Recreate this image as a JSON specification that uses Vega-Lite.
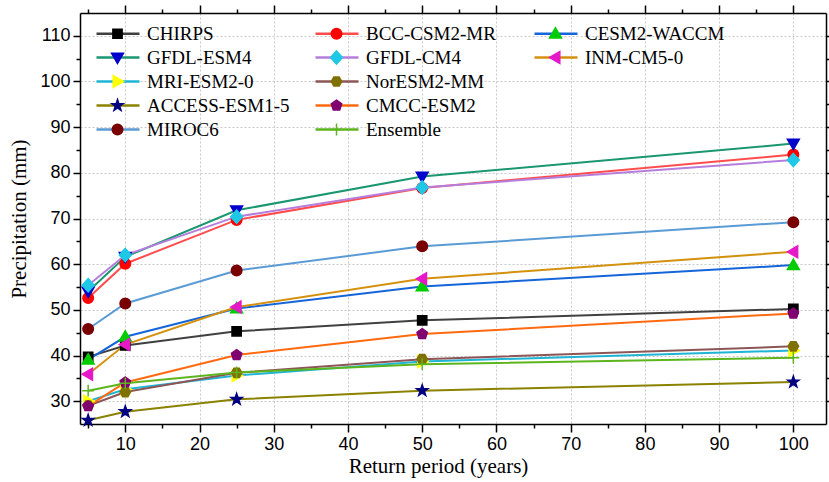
{
  "$schema": "https://vega.github.io/schema/vega-lite/v6.json",
  "width": 746,
  "height": 411,
  "autosize": {"type": "none"},
  "padding": {"left": 80, "top": 13, "right": 3, "bottom": 58},
  "background": "white",
  "config": {
    "view": {"stroke": null},
    "axis": {
      "domainColor": "black",
      "domainWidth": 1.5,
      "tickColor": "black",
      "tickWidth": 1.5,
      "labelColor": "black",
      "labelFont": "Liberation Sans",
      "labelFontSize": 18,
      "titleFont": "Liberation Serif",
      "titleFontSize": 21,
      "titleFontWeight": "normal",
      "titleColor": "black",
      "gridColor": "#c8c8c8",
      "gridDash": [2, 2],
      "gridWidth": 1
    }
  },
  "data": {
    "values": [
      {"model": "CHIRPS", "period": 5, "precip": 39.7},
      {"model": "CHIRPS", "period": 10, "precip": 42.2},
      {"model": "CHIRPS", "period": 25, "precip": 45.3},
      {"model": "CHIRPS", "period": 50, "precip": 47.7},
      {"model": "CHIRPS", "period": 100, "precip": 50.2},
      {"model": "BCC-CSM2-MR", "period": 5, "precip": 52.6},
      {"model": "BCC-CSM2-MR", "period": 10, "precip": 60.1},
      {"model": "BCC-CSM2-MR", "period": 25, "precip": 69.7},
      {"model": "BCC-CSM2-MR", "period": 50, "precip": 76.7},
      {"model": "BCC-CSM2-MR", "period": 100, "precip": 84.0},
      {"model": "CESM2-WACCM", "period": 5, "precip": 39.1},
      {"model": "CESM2-WACCM", "period": 10, "precip": 44.1},
      {"model": "CESM2-WACCM", "period": 25, "precip": 50.3},
      {"model": "CESM2-WACCM", "period": 50, "precip": 55.1},
      {"model": "CESM2-WACCM", "period": 100, "precip": 59.8},
      {"model": "GFDL-ESM4", "period": 5, "precip": 54.0},
      {"model": "GFDL-ESM4", "period": 10, "precip": 61.6},
      {"model": "GFDL-ESM4", "period": 25, "precip": 71.8},
      {"model": "GFDL-ESM4", "period": 50, "precip": 79.2},
      {"model": "GFDL-ESM4", "period": 100, "precip": 86.4},
      {"model": "GFDL-CM4", "period": 5, "precip": 55.4},
      {"model": "GFDL-CM4", "period": 10, "precip": 62.0},
      {"model": "GFDL-CM4", "period": 25, "precip": 70.4},
      {"model": "GFDL-CM4", "period": 50, "precip": 76.8},
      {"model": "GFDL-CM4", "period": 100, "precip": 82.8},
      {"model": "INM-CM5-0", "period": 5, "precip": 35.9},
      {"model": "INM-CM5-0", "period": 10, "precip": 42.4},
      {"model": "INM-CM5-0", "period": 25, "precip": 50.6},
      {"model": "INM-CM5-0", "period": 50, "precip": 56.8},
      {"model": "INM-CM5-0", "period": 100, "precip": 62.7},
      {"model": "MRI-ESM2-0", "period": 5, "precip": 30.0},
      {"model": "MRI-ESM2-0", "period": 10, "precip": 32.6},
      {"model": "MRI-ESM2-0", "period": 25, "precip": 35.6},
      {"model": "MRI-ESM2-0", "period": 50, "precip": 38.7},
      {"model": "MRI-ESM2-0", "period": 100, "precip": 41.1},
      {"model": "NorESM2-MM", "period": 5, "precip": 29.0},
      {"model": "NorESM2-MM", "period": 10, "precip": 32.0},
      {"model": "NorESM2-MM", "period": 25, "precip": 36.2},
      {"model": "NorESM2-MM", "period": 50, "precip": 39.2},
      {"model": "NorESM2-MM", "period": 100, "precip": 42.0},
      {"model": "ACCESS-ESM1-5", "period": 5, "precip": 25.8},
      {"model": "ACCESS-ESM1-5", "period": 10, "precip": 27.7},
      {"model": "ACCESS-ESM1-5", "period": 25, "precip": 30.4},
      {"model": "ACCESS-ESM1-5", "period": 50, "precip": 32.3},
      {"model": "ACCESS-ESM1-5", "period": 100, "precip": 34.2},
      {"model": "CMCC-ESM2", "period": 5, "precip": 28.9},
      {"model": "CMCC-ESM2", "period": 10, "precip": 34.1},
      {"model": "CMCC-ESM2", "period": 25, "precip": 40.1},
      {"model": "CMCC-ESM2", "period": 50, "precip": 44.7},
      {"model": "CMCC-ESM2", "period": 100, "precip": 49.2},
      {"model": "MIROC6", "period": 5, "precip": 45.8},
      {"model": "MIROC6", "period": 10, "precip": 51.4},
      {"model": "MIROC6", "period": 25, "precip": 58.6},
      {"model": "MIROC6", "period": 50, "precip": 63.9},
      {"model": "MIROC6", "period": 100, "precip": 69.2},
      {"model": "Ensemble", "period": 5, "precip": 32.3},
      {"model": "Ensemble", "period": 10, "precip": 33.9},
      {"model": "Ensemble", "period": 25, "precip": 36.3},
      {"model": "Ensemble", "period": 50, "precip": 38.1},
      {"model": "Ensemble", "period": 100, "precip": 39.5}
    ]
  },
  "resolve": {"axis": {"x": "independent", "y": "independent"}},
  "layer": [
    {
      "mark": {"type": "line", "interpolate": "linear", "strokeWidth": 2},
      "encoding": {
        "x": {
          "field": "period", "type": "quantitative",
          "scale": {"domain": [3.9, 104.4], "nice": false, "zero": false},
          "axis": {"orient": "bottom", "values": [10, 20, 30, 40, 50, 60, 70, 80, 90, 100], "tickSize": 8, "labelPadding": 3, "grid": true, "title": "Return period (years)", "titlePadding": 2, "titleX": 358}
        },
        "y": {
          "field": "precip", "type": "quantitative",
          "scale": {"domain": [25, 115], "nice": false, "zero": false},
          "axis": {"orient": "left", "values": [30, 40, 50, 60, 70, 80, 90, 100, 110], "tickSize": 7, "labelPadding": 3, "grid": true, "title": "Precipitation (mm)", "titlePadding": 10}
        },
        "color": {
          "field": "model", "type": "nominal",
          "scale": {
            "domain": ["CHIRPS", "GFDL-ESM4", "MRI-ESM2-0", "ACCESS-ESM1-5", "MIROC6", "BCC-CSM2-MR", "GFDL-CM4", "NorESM2-MM", "CMCC-ESM2", "Ensemble", "CESM2-WACCM", "INM-CM5-0", "_a", "_b", "_c"],
            "range": ["#404040", "#1a9670", "#1eb4d4", "#8a8200", "#5a9bd5", "#ff4d4d", "#b57edc", "#8c5656", "#ff6a10", "#5db51e", "#1565d8", "#d4910e", "transparent", "transparent", "transparent"]
          },
          "legend": {
            "orient": "none", "legendX": 15, "legendY": 11, "columns": 3, "gridAlign": "all", "title": null, "padding": 0,
            "symbolType": "stroke", "symbolSize": 1849, "symbolStrokeWidth": 2.5, "clipHeight": 19,
            "labelFont": "Liberation Serif", "labelFontSize": 19, "labelColor": "black", "labelOffset": 6,
            "columnPadding": 24, "rowPadding": 4, "labelLimit": 0,
            "labelExpr": "indexof(datum.label, '_') == 0 ? '' : datum.label"
          }
        }
      }
    },
    {
      "mark": {"type": "point", "filled": true, "opacity": 1, "size": 1849, "strokeWidth": 1.5},
      "encoding": {
        "x": {"field": "period", "type": "quantitative", "axis": {"orient": "top", "values": [10, 20, 30, 40, 50, 60, 70, 80, 90, 100], "tickSize": 8, "labels": false, "grid": false, "title": null}},
        "y": {"field": "precip", "type": "quantitative", "axis": {"orient": "right", "values": [30, 40, 50, 60, 70, 80, 90, 100, 110], "tickSize": 7, "labels": false, "grid": false, "title": null}},
        "fill": {
          "field": "model", "type": "nominal",
          "scale": {
            "domain": ["CHIRPS", "GFDL-ESM4", "MRI-ESM2-0", "ACCESS-ESM1-5", "MIROC6", "BCC-CSM2-MR", "GFDL-CM4", "NorESM2-MM", "CMCC-ESM2", "Ensemble", "CESM2-WACCM", "INM-CM5-0", "_d", "_e", "_f"],
            "range": ["#000000", "#0000cc", "#ffff00", "#000080", "#7a0000", "#ff0000", "#1ec8e6", "#807000", "#800070", "#5db51e", "#00cc00", "#e619c8", "transparent", "transparent", "transparent"]
          },
          "legend": {
            "orient": "none", "legendX": 15, "legendY": 11, "columns": 3, "gridAlign": "all", "title": null, "padding": 0,
            "symbolSize": 1849, "symbolStrokeWidth": 1.5, "clipHeight": 19,
            "labelFont": "Liberation Serif", "labelFontSize": 19, "labelOffset": 6,
            "columnPadding": 168, "rowPadding": 4, "labelLimit": 0,
            "labelExpr": "''"
          }
        },
        "stroke": {
          "field": "model", "type": "nominal",
          "scale": {
            "domain": ["CHIRPS", "GFDL-ESM4", "MRI-ESM2-0", "ACCESS-ESM1-5", "MIROC6", "BCC-CSM2-MR", "GFDL-CM4", "NorESM2-MM", "CMCC-ESM2", "Ensemble", "CESM2-WACCM", "INM-CM5-0", "_d", "_e", "_f"],
            "range": ["#000000", "#0000cc", "#ffff00", "#000080", "#7a0000", "#ff0000", "#1ec8e6", "#807000", "#800070", "#5db51e", "#00cc00", "#e619c8", "transparent", "transparent", "transparent"]
          }
        },
        "shape": {
          "field": "model", "type": "nominal",
          "scale": {
            "domain": ["CHIRPS", "GFDL-ESM4", "MRI-ESM2-0", "ACCESS-ESM1-5", "MIROC6", "BCC-CSM2-MR", "GFDL-CM4", "NorESM2-MM", "CMCC-ESM2", "Ensemble", "CESM2-WACCM", "INM-CM5-0", "_d", "_e", "_f"],
            "range": [
              "M-1,0M1,0M-0.215,-0.215H0.215V0.215H-0.215Z",
              "M-1,0M1,0M0,0.276L0.276,-0.2L-0.276,-0.2Z",
              "M-1,0M1,0M0.276,0L-0.2,-0.276L-0.2,0.276Z",
              "M-1,0M1,0M0,-0.276L0.064,-0.087L0.262,-0.085L0.104,0.034L0.163,0.223L0,0.109L-0.163,0.223L-0.104,0.034L-0.262,-0.085L-0.064,-0.087Z",
              "M-1,0M1,0M-0.245,0A0.245,0.245,0,1,0,0.245,0A0.245,0.245,0,1,0,-0.245,0Z",
              "M-1,0M1,0M-0.245,0A0.245,0.245,0,1,0,0.245,0A0.245,0.245,0,1,0,-0.245,0Z",
              "M-1,0M1,0M0,-0.307L0.276,0L0,0.307L-0.276,0Z",
              "M-1,0M1,0M-0.245,0L-0.123,-0.215L0.123,-0.215L0.245,0L0.123,0.215L-0.123,0.215Z",
              "M-1,0M1,0M0,-0.253L0.241,-0.078L0.149,0.205L-0.149,0.205L-0.241,-0.078Z",
              "M-1,0M1,0M-0.276,0H0.276M0,-0.276V0.276",
              "M-1,0M1,0M0,-0.276L0.276,0.2L-0.276,0.2Z",
              "M-1,0M1,0M-0.276,0L0.2,-0.276L0.2,0.276Z",
              "M-1,0M1,0M-0.1,-0.1H0.1V0.1H-0.1Z",
              "M-1,0M1,0M-0.1,-0.1H0.1V0.1H-0.1Z",
              "M-1,0M1,0M-0.1,-0.1H0.1V0.1H-0.1Z"
            ]
          }
        }
      }
    },
    {
      "mark": {"type": "point", "opacity": 0},
      "encoding": {
        "x": {"field": "period", "type": "quantitative", "axis": {"orient": "bottom", "values": [5, 15, 25, 35, 45, 55, 65, 75, 85, 95], "tickSize": 4, "labels": false, "domain": false, "grid": false, "title": null}},
        "y": {"field": "precip", "type": "quantitative", "axis": {"orient": "left", "values": [35, 45, 55, 65, 75, 85, 95, 105], "tickSize": 4, "labels": false, "domain": false, "grid": false, "title": null}}
      }
    },
    {
      "mark": {"type": "point", "opacity": 0},
      "encoding": {
        "x": {"field": "period", "type": "quantitative", "axis": {"orient": "top", "values": [5, 15, 25, 35, 45, 55, 65, 75, 85, 95], "tickSize": 4, "labels": false, "domain": false, "grid": false, "title": null}},
        "y": {"field": "precip", "type": "quantitative", "axis": {"orient": "right", "values": [35, 45, 55, 65, 75, 85, 95, 105], "tickSize": 4, "labels": false, "domain": false, "grid": false, "title": null}}
      }
    }
  ]
}
